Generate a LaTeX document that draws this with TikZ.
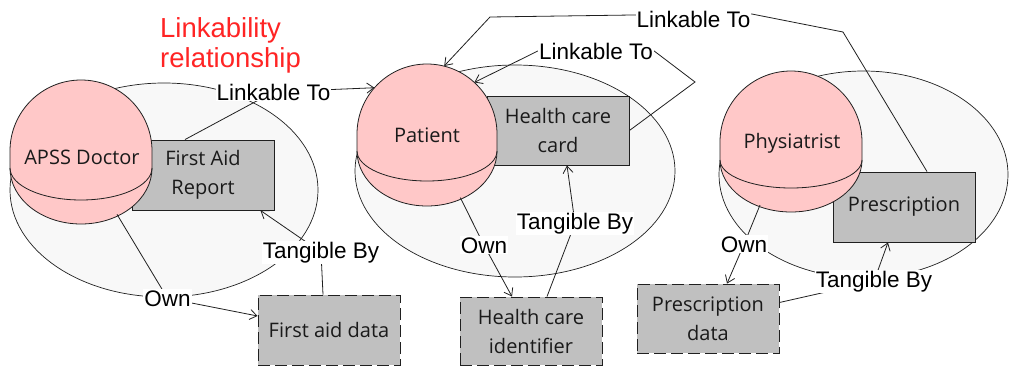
\documentclass[tikz,border=0pt]{standalone}
\usepackage{fontspec}
\setmainfont{Liberation Sans}
\newfontfamily\nodefont{Open Sans}
\usetikzlibrary{shapes.geometric,arrows.meta,calc}
\definecolor{pinkfill}{HTML}{FFC8C8}
\definecolor{boxfill}{HTML}{C0C0C0}
\definecolor{grpfill}{HTML}{F8F8F8}
\definecolor{linecol}{HTML}{202020}
\definecolor{titlered}{HTML}{FF2424}
\definecolor{nodetext}{HTML}{1A1A1A}
\pgfdeclarelayer{shapes}
\pgfdeclarelayer{conns}
\pgfsetlayers{shapes,conns,main}
% cx, c (inner-arc centre y), top y, rx, inner ry, outer ry  (y measured downwards)
\newcommand\sphbody[6]{%
  \pgfmathsetmacro\sphdomey{#3+#4}%
  \filldraw[draw=linecol, fill=pinkfill, line width=0.8pt]
    ({#1-#4},{-#2}) -- ({#1-#4},{-\sphdomey})
    arc[start angle=180, end angle=0, x radius=#4, y radius=#4]
    -- ({#1+#4},{-#2})
    arc[start angle=0, end angle=-180, x radius=#4, y radius=#6] -- cycle;
  \draw[linecol, line width=0.8pt] ({#1-#4},{-#2})
    arc[start angle=180, end angle=360, x radius=#4, y radius=#5];
}
\begin{document}
\begin{tikzpicture}[x=1pt, y=1pt,
  grp/.style={ellipse, draw=linecol, fill=grpfill, line width=0.7pt, inner sep=0pt},
  box/.style={rectangle, draw=linecol, fill=boxfill, line width=0.9pt,
    minimum width=142pt, minimum height=70pt, inner sep=0pt,
    font=\nodefont\fontsize{20}{29}\selectfont, text=nodetext, align=center},
  dbox/.style={box, dash pattern=on 12pt off 5pt},
  sph/.style={ellipse, draw=none, inner sep=0pt, minimum width=142pt, minimum height=144pt},
  sphtxt/.style={font=\nodefont\fontsize{20}{24}\selectfont, inner sep=0pt, text=nodetext},
  lbl/.style={fill=white, inner sep=1pt, anchor=base, font=\fontsize{22.5}{27}\selectfont},
  conn/.style={draw=linecol, line width=0.8pt},
  arr/.style={conn, -{Straight Barb[length=7pt, width=10pt]}},
]
\useasboundingbox (0,0) rectangle (1009,-367);

\begin{pgfonlayer}{shapes}
  % group ellipses
  \node[grp, minimum width=308pt, minimum height=214pt] (g1) at (164,-190) {};
  \node[grp, minimum width=320pt, minimum height=212pt] (g2) at (515,-171) {};
  \node[grp, minimum width=289pt, minimum height=207pt] (g3) at (863.5,-174.5) {};
  % solid boxes
  \node[box] (far) at (203,-175) {First Aid\\Report};
  \node[box, minimum height=69pt] (hcc) at (558,-130.5) {Health care\\card};
  \node[box] (presc) at (904,-207) {Prescription};
  % spheres
  \sphbody{81}{168}{80}{71}{32}{56}
  \sphbody{427}{151}{64}{70}{30}{55}
  \sphbody{791}{160}{71}{71}{28}{52}
  \node[sph] (apss) at (81,-152) {};
  \node[sph, minimum width=140pt, minimum height=142pt] (patient) at (427,-135) {};
  \node[sph, minimum height=141pt] (phys) at (791,-141.5) {};
  \node[sphtxt] (apssT) at (82,-157) {APSS Doctor};
  \node[sphtxt] (patientT) at (427,-135) {Patient};
  \node[sphtxt] (physT) at (792,-143) {Physiatrist};
  % dashed boxes
  \node[dbox] (fad) at (329,-330) {First aid data};
  \node[dbox, minimum height=68pt] (hci) at (531,-331) {Health care\\identifier};
  \node[dbox, minimum height=69pt] (pd) at (708,-318.5) {Prescription\\data};
\end{pgfonlayer}

% title
\node[anchor=north west, inner sep=0pt, align=left, text=titlered,
      font=\fontsize{27.5}{30.5}\selectfont] (title) at (160,-17) {Linkability\\relationship};

% connector labels
\node[lbl] (lt1) at (273.5,-100) {Linkable To};
\node[lbl] (own1) at (167.5,-306) {Own};
\node[lbl] (tb1) at (321,-258) {Tangible By};
\node[lbl] (lt2) at (596,-59) {Linkable To};
\node[lbl] (lt3) at (693.5,-27) {Linkable To};
\node[lbl] (own2) at (484,-253) {Own};
\node[lbl] (tb2) at (575,-229) {Tangible By};
\node[lbl] (own3) at (744,-252) {Own};
\node[lbl] (tb3) at (874,-287) {Tangible By};

\coordinate (b2) at (695,-82);
\coordinate (b3a) at (843,-32);
\coordinate (b3b) at (490,-17);

\begin{pgfonlayer}{conns}
  \draw[arr] (apss.-60) -- (own1.center) -- (fad);
  \draw[arr] ([xshift=-18pt]far.north) -- (lt1.center) -- (patient.138);
  \draw[arr] ([xshift=-6pt]fad.north) -- (tb1.center) -- ([xshift=-14pt]far.south east);
  \draw[arr] (hcc.east) -- (b2) -- (lt2.east) -- (lt2.west) -- (patient.48);
  \draw[arr] ([xshift=23pt]presc.north) -- (b3a) -- ([yshift=5pt]lt3.east)
             -- ([yshift=4pt]lt3.west) -- (b3b) -- (patient.76);
  \draw[arr] (patient.-62) -- (own2.center) -- ([xshift=-19pt]hci.north);
  \draw[arr] ([xshift=16pt]hci.north) -- (tb2.center) -- ([xshift=9pt]hcc.south);
  \draw[arr] (phys.-116) -- (own3.center) -- ([xshift=19pt]pd.north);
  \draw[arr] ([yshift=16pt]pd.east) -- (tb3.center) -- ([xshift=-16pt]presc.south);
\end{pgfonlayer}
\end{tikzpicture}
\end{document}
